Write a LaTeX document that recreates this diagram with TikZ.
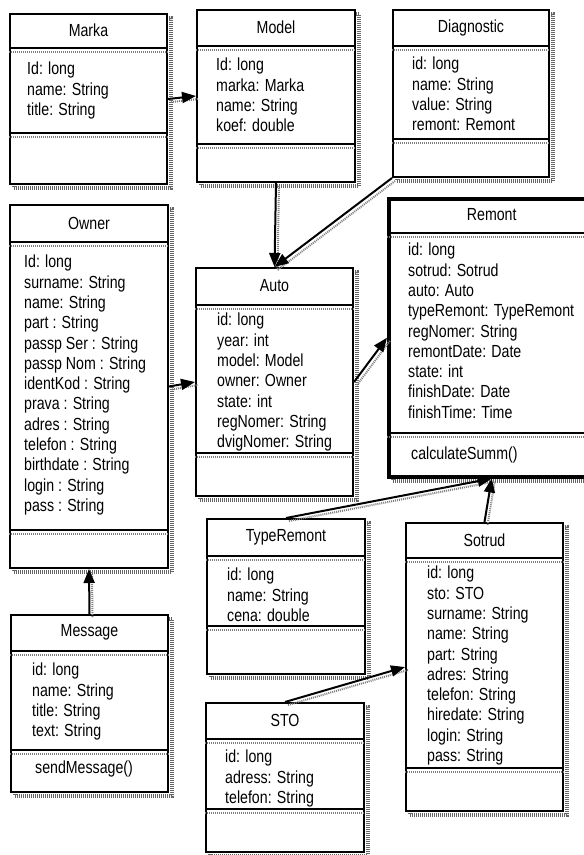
\documentclass[tikz,border=0pt]{standalone}
\usepackage{fontspec}
\setmainfont{Liberation Sans}[FakeStretch=0.81]
\usepackage{tikz}
\usetikzlibrary{arrows.meta,positioning}
\tikzstyle{cls} = [rectangle, anchor=north west, draw=black, line width=2pt, fill=white, inner sep=0pt, preaction={draw=black!60, fill=none, line width=3.5pt, dash pattern=on 1pt off 1pt, transform canvas={shift={(4pt,-4pt)}}}]
\tikzstyle{clsname} = [font=\fontsize{17.5}{20.3}\selectfont, inner sep=0pt]
\tikzstyle{attrs} = [font=\fontsize{17.5}{20.3}\selectfont, align=left, inner sep=0pt]
\tikzstyle{sep} = [draw, line width=2pt, postaction={draw, black!50, line width=1.2pt, dash pattern=on 1pt off 1pt, transform canvas={yshift=-4pt}}]
\tikzstyle{tedge} = [draw, line width=2pt, -{Triangle[length=14pt,width=11pt]}, preaction={draw, arrows=-, black!50, line width=2pt, dash pattern=on 1pt off 1pt, transform canvas={shift={(3pt,-3pt)}}}]

\begin{document}
\begin{tikzpicture}[x=1pt, y=1pt]
\useasboundingbox (0,0) rectangle (584,-855);

% classes =============================

% Marka
\node[cls, minimum width=157pt, minimum height=170pt] (marka) at (9,-13) {};
\node[clsname] (markaN) at ([yshift=-17.5pt]marka.north) {Marka};
\draw[sep] ([yshift=-35pt]marka.north west) -- ([yshift=-35pt]marka.north east);
\draw[sep] ([yshift=-120pt]marka.north west) -- ([yshift=-120pt]marka.north east);
\node[attrs, below right=49pt and 18pt of marka.north west] (markaA) {Id: long\\name: String\\title: String};

% Model
\node[cls, minimum width=158pt, minimum height=172pt] (model) at (196,-9) {};
\node[clsname] (modelN) at ([yshift=-18.5pt]model.north) {Model};
\draw[sep] ([yshift=-37pt]model.north west) -- ([yshift=-37pt]model.north east);
\draw[sep] ([yshift=-135pt]model.north west) -- ([yshift=-135pt]model.north east);
\node[attrs, below right=49pt and 20pt of model.north west] (modelA) {Id: long\\marka: Marka\\name: String\\koef: double};

% Diagnostic
\node[cls, minimum width=156pt, minimum height=167pt] (diag) at (392,-9) {};
\node[clsname] (diagN) at ([yshift=-18.5pt]diag.north) {Diagnostic};
\draw[sep] ([yshift=-37pt]diag.north west) -- ([yshift=-37pt]diag.north east);
\draw[sep] ([yshift=-130pt]diag.north west) -- ([yshift=-130pt]diag.north east);
\node[attrs, below right=48pt and 20pt of diag.north west] (diagA) {id: long\\name: String\\value: String\\remont: Remont};

% Owner
\node[cls, minimum width=158pt, minimum height=363pt] (owner) at (9,-204) {};
\node[clsname] (ownerN) at ([yshift=-19pt]owner.north) {Owner};
\draw[sep] ([yshift=-38pt]owner.north west) -- ([yshift=-38pt]owner.north east);
\draw[sep] ([yshift=-326pt]owner.north west) -- ([yshift=-326pt]owner.north east);
\node[attrs, below right=51pt and 15pt of owner.north west] (ownerA) {Id: long\\surname: String\\name: String\\part : String\\passp Ser : String\\passp Nom : String\\identKod : String\\prava : String\\adres : String\\telefon : String\\birthdate : String\\login : String\\pass : String};

% Auto
\node[cls, minimum width=157pt, minimum height=228pt] (auto) at (195,-267) {};
\node[clsname] (autoN) at ([yshift=-19pt]auto.north) {Auto};
\draw[sep] ([yshift=-38pt]auto.north west) -- ([yshift=-38pt]auto.north east);
\draw[sep] ([yshift=-186pt]auto.north west) -- ([yshift=-186pt]auto.north east);
\node[attrs, below right=46pt and 22pt of auto.north west] (autoA) {id: long\\year: int\\model: Model\\owner: Owner\\state: int\\regNomer: String\\dvigNomer: String};

% Remont
\node[cls, line width=3.5pt, minimum width=206pt, minimum height=278pt] (remont) at (387,-197) {};
\node[clsname] (remontN) at ([yshift=-18pt]remont.north) {Remont};
\draw[sep] ([yshift=-36pt]remont.north west) -- ([yshift=-36pt]remont.north east);
\draw[sep] ([yshift=-236pt]remont.north west) -- ([yshift=-236pt]remont.north east);
\node[attrs, below right=46pt and 21pt of remont.north west] (remontA) {id: long\\sotrud: Sotrud\\auto: Auto\\typeRemont: TypeRemont\\regNomer: String\\remontDate: Date\\state: int\\finishDate: Date\\finishTime: Time};
\node[attrs, below right=250pt and 24pt of remont.north west] (remontO) {calculateSumm()};

% TypeRemont
\node[cls, minimum width=158pt, minimum height=155pt] (typer) at (206,-518) {};
\node[clsname] (typerN) at ([yshift=-19pt]typer.north) {TypeRemont};
\draw[sep] ([yshift=-38pt]typer.north west) -- ([yshift=-38pt]typer.north east);
\draw[sep] ([yshift=-108pt]typer.north west) -- ([yshift=-108pt]typer.north east);
\node[attrs, below right=50pt and 21pt of typer.north west] (typerA) {id: long\\name: String\\cena: double};

% STO
\node[cls, minimum width=158pt, minimum height=149pt] (sto) at (205,-702) {};
\node[clsname] (stoN) at ([yshift=-18.5pt]sto.north) {STO};
\draw[sep] ([yshift=-37pt]sto.north west) -- ([yshift=-37pt]sto.north east);
\draw[sep] ([yshift=-107pt]sto.north west) -- ([yshift=-107pt]sto.north east);
\node[attrs, below right=48pt and 20pt of sto.north west] (stoA) {id: long\\adress: String\\telefon: String};

% Sotrud
\node[cls, minimum width=157pt, minimum height=288pt] (sotrud) at (405,-522) {};
\node[clsname] (sotrudN) at ([yshift=-18pt]sotrud.north) {Sotrud};
\draw[sep] ([yshift=-36pt]sotrud.north west) -- ([yshift=-36pt]sotrud.north east);
\draw[sep] ([yshift=-246pt]sotrud.north west) -- ([yshift=-246pt]sotrud.north east);
\node[attrs, below right=44pt and 22pt of sotrud.north west] (sotrudA) {id: long\\sto: STO\\surname: String\\name: String\\part: String\\adres: String\\telefon: String\\hiredate: String\\login: String\\pass: String};

% Message
\node[cls, minimum width=157pt, minimum height=177pt] (message) at (10,-614) {};
\node[clsname] (messageN) at ([yshift=-18.5pt]message.north) {Message};
\draw[sep] ([yshift=-37pt]message.north west) -- ([yshift=-37pt]message.north east);
\draw[sep] ([yshift=-136pt]message.north west) -- ([yshift=-136pt]message.north east);
\node[attrs, below right=49pt and 22pt of message.north west] (messageA) {id: long\\name: String\\title: String\\text: String};
\node[attrs, below right=147pt and 25pt of message.north west] (messageO) {sendMessage()};

%edges
\path[tedge] (marka.east) -- (model.west);
\path[tedge] (model.south) -- (auto.north);
\path[tedge] (diag.south west) -- (auto.north);
\path[tedge] (owner.east) -- (auto.west);
\path[tedge] (auto.east) -- (remont.west);
\path[tedge] (typer.north) -- (remont.south);
\path[tedge] (sotrud.north) -- (remont.south);
\path[tedge] (sto.north) -- (sotrud.west);
\path[tedge] (message.north) -- (owner.south);

\end{tikzpicture}
\end{document}
